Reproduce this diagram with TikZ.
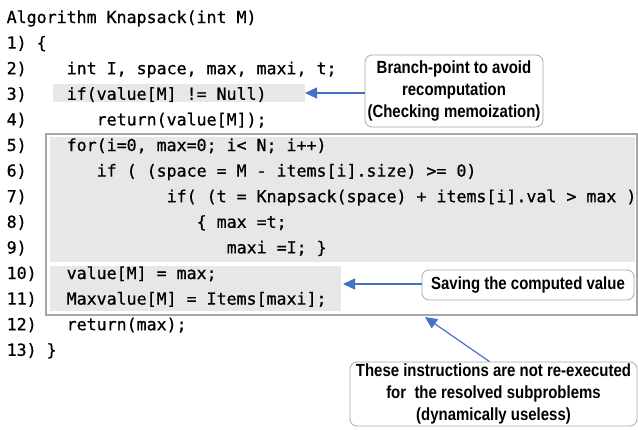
\documentclass[tikz,border=0pt]{standalone}
\usepackage{fontspec}
\usetikzlibrary{arrows.meta}
\setmonofont[FakeBold=0.7]{DejaVu Sans Mono}
\newfontfamily\lblfont[FakeStretch=0.85]{Liberation Sans}
\definecolor{codegray}{HTML}{E7E7E7}
\definecolor{bordergray}{HTML}{A6A6A6}
\definecolor{boxgray}{HTML}{A8A8A8}
\definecolor{arrowblue}{HTML}{4472C4}
\newcommand\codefont{\fontsize{16.6}{20}\selectfont\ttfamily}
\newcommand\cw{10.0}
\tikzset{
  codeline/.style={anchor=base west, inner sep=0pt, font=\codefont},
  callout/.style={draw=boxgray, line width=0.8pt, rounded corners=7pt, fill=white,
    font=\fontsize{17.6}{22}\selectfont\lblfont\bfseries, align=center, inner sep=0pt},
  ptr/.style={draw=arrowblue, line width=1.2pt, -{Triangle[length=12pt,width=11pt,fill=arrowblue]}},
  hl/.style={fill=codegray},
  frame/.style={draw=bordergray, line width=1.5pt}
}
\begin{document}
\begin{tikzpicture}[x=1pt,y=-1pt]
\useasboundingbox (0,0) rectangle (638,429);
% backgrounds
\draw[frame] (46,134) rectangle (637,315);
\fill[hl] (50,137) rectangle (635,262);
\fill[hl] (50,266) rectangle (341,311);
\fill[hl] (53,84) rectangle (305,102);
% code lines: baseline 23+25.6k, x = 6.5 + col*cw
\node[codeline] (l0) at (6.5, 23.0) {Algorithm Knapsack(int M)};
\node[codeline] (n1) at (6.5, 48.6) {1) \{};
\node[codeline] (n2) at (6.5, 74.2) {2)};
\node[codeline] (c2) at ({6.5+6*\cw}, 74.2) {int I, space, max, maxi, t;};
\node[codeline] (n3) at (6.5, 99.8) {3)};
\node[codeline] (c3) at ({6.5+6*\cw}, 99.8) {if(value[M] != Null)};
\node[codeline] (n4) at (6.5, 125.4) {4)};
\node[codeline] (c4) at ({6.5+9*\cw}, 125.4) {return(value[M]);};
\node[codeline] (n5) at (6.5, 151.0) {5)};
\node[codeline] (c5) at ({6.5+6*\cw}, 151.0) {for(i=0, max=0; i< N; i++)};
\node[codeline] (n6) at (6.5, 176.6) {6)};
\node[codeline] (c6) at ({6.5+9*\cw}, 176.6) {if ( (space = M - items[i].size) >= 0)};
\node[codeline] (n7) at (6.5, 202.2) {7)};
\node[codeline] (c7) at ({6.5+16*\cw}, 202.2) {if( (t = Knapsack(space) + items[i].val > max )};
\node[codeline] (n8) at (6.5, 227.8) {8)};
\node[codeline] (c8) at ({6.5+19*\cw}, 227.8) {\{ max =t;};
\node[codeline] (n9) at (6.5, 253.4) {9)};
\node[codeline] (c9) at ({6.5+22*\cw}, 253.4) {maxi =I; \}};
\node[codeline] (n10) at (6.5, 279.0) {10)};
\node[codeline] (c10) at ({6.5+6*\cw}, 279.0) {value[M] = max;};
\node[codeline] (n11) at (6.5, 304.6) {11)};
\node[codeline] (c11) at ({6.5+6*\cw}, 304.6) {Maxvalue[M] = Items[maxi];};
\node[codeline] (n12) at (6.5, 330.2) {12)};
\node[codeline] (c12) at ({6.5+6*\cw}, 330.2) {return(max);};
\node[codeline] (n13) at (6.5, 355.8) {13) \}};
% callouts
\node[callout, minimum width=178pt, minimum height=72pt] (b1) at (454,91)
  {Branch-point to avoid\\recomputation\\(Checking memoization)};
\node[callout, minimum width=212pt, minimum height=30pt] (b2) at (528,285)
  {Saving the computed value};
\node[callout, minimum width=287pt, minimum height=64pt] (b3) at (493.5,394)
  {These instructions are not re-executed\\for\ \ the resolved subproblems\\(dynamically useless)};
\coordinate (t1) at (305,93);
\coordinate (t2) at (343,284);
\coordinate (t3) at (425,317);
\draw[ptr] (b1.west |- t1) -- (t1);
\draw[ptr] (b2.west |- t2) -- (t2);
\draw[ptr] ([xshift=-4pt]b3.north) -- (t3);
\end{tikzpicture}
\end{document}
